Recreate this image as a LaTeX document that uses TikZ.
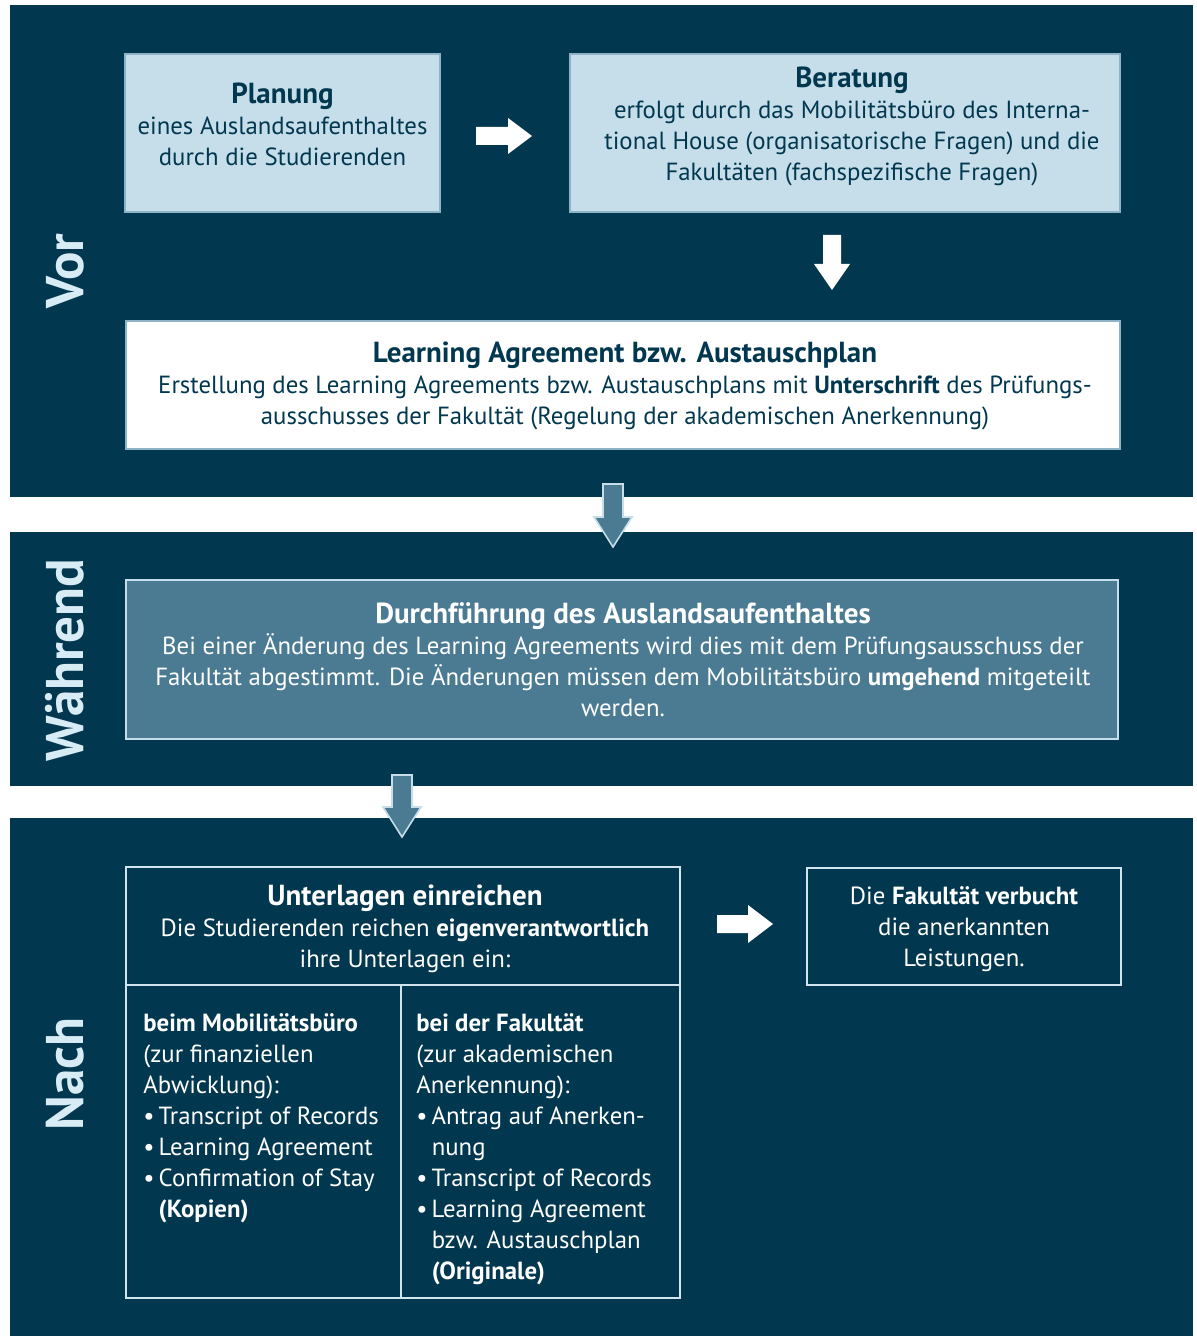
\documentclass[tikz,border=0pt]{standalone}
\usepackage{fontspec}
\setmainfont{PT Sans}
\definecolor{navy}{HTML}{02384F}
\definecolor{lightbl}{HTML}{C6DEEA}
\definecolor{midbl}{HTML}{4A7B93}
\definecolor{edgebl}{HTML}{8FB3C6}
\definecolor{labelbl}{HTML}{D8ECF6}
\newcommand{\bodyfont}{\fontsize{12.4}{15.5}\selectfont}
\newcommand{\titlefont}{\fontsize{14.5}{17}\selectfont\bfseries}
\tikzset{
  band/.style={fill=navy},
  lightbox/.style={fill=lightbl, draw=edgebl, line width=0.6pt, inner sep=0, outer sep=0, anchor=north west},
  whitebox/.style={fill=white, draw=edgebl, line width=0.6pt, inner sep=0, outer sep=0, anchor=north west},
  midbox/.style={fill=midbl, draw=lightbl, line width=0.8pt, inner sep=0, outer sep=0, anchor=north west},
  darkbox/.style={draw=lightbl!80!white, line width=0.8pt, inner sep=0, outer sep=0, anchor=north west},
  txt/.style={font=\bodyfont, align=center, inner sep=0},
  coltxt/.style={font=\bodyfont, align=left, inner sep=0, anchor=north west, text=white},
  vlabel/.style={rotate=90, font=\fontsize{26.5}{30}\selectfont\bfseries, text=labelbl, inner sep=0},
  whitearrow/.style={fill=white},
  midarrow/.style={fill=midbl, draw=lightbl, line width=0.8pt},
}
\begin{document}
\begin{tikzpicture}[x=0.5pt,y=-0.5pt]
\useasboundingbox (0,0) rectangle (1196,1336);
\fill[white] (0,0) rectangle (1196,1336);
% bands
\fill[band] (10,5) rectangle (1193,497);
\fill[band] (10,532) rectangle (1193,786);
\fill[band] (10,818) rectangle (1193,1336);

% vertical labels
\node[vlabel] (vor) at (65,271) {Vor};
\node[vlabel] (waehrend) at (65,660) {Während};
\node[vlabel] (nach) at (65,1074) {Nach};

% --- Vor ---
\node[lightbox, minimum width=157.5pt, minimum height=79pt] (plan) at (125,54) {};
\node[txt, text=navy] (planT) at (plan.center) [yshift=4.5pt] {{\titlefont Planung}\\eines Auslandsaufenthaltes\\durch die Studierenden};

\node[lightbox, minimum width=275pt, minimum height=79pt] (ber) at (570,54) {};
\node[txt, text=navy] (berT) at (852,126) {{\titlefont Beratung}\\erfolgt durch das Mobilitätsbüro des Interna-\\tional House (organisatorische Fragen) und die\\Fakultäten (fachspezifische Fragen)};

\node[whitebox, minimum width=497pt, minimum height=64pt] (la) at (126,321) {};
\node[txt, text=navy] (laT) at (625,386) {{\titlefont Learning Agreement bzw. Austauschplan}\\Erstellung des Learning Agreements bzw. Austauschplans mit \textbf{Unterschrift} des Prüfungs-\\ausschusses der Fakultät (Regelung der akademischen Anerkennung)};

% arrows Vor
\fill[whitearrow] (476,127) -- (508,127) -- (508,118) -- (532,136) -- (508,154) -- (508,145) -- (476,145) -- cycle;
\fill[whitearrow] (823,235) -- (841,235) -- (841,264) -- (850,264) -- (832,290) -- (814,264) -- (823,264) -- cycle;

% arrow Vor -> Waehrend
\filldraw[midarrow] (603,484) -- (623,484) -- (623,517) -- (632,517) -- (613,547) -- (594,517) -- (603,517) -- cycle;

% --- Waehrend ---
\node[midbox, minimum width=496pt, minimum height=79.5pt] (durch) at (126,580) {};
\node[txt, text=white] (durchT) at (623,660) {{\titlefont Durchführung des Auslandsaufenthaltes}\\Bei einer Änderung des Learning Agreements wird dies mit dem Prüfungsausschuss der\\Fakultät abgestimmt. Die Änderungen müssen dem Mobilitätsbüro \textbf{umgehend} mitgeteilt\\werden.};

% arrow Waehrend -> Nach
\filldraw[midarrow] (392,775) -- (412,775) -- (412,807) -- (421,807) -- (402,837) -- (383,807) -- (392,807) -- cycle;

% --- Nach ---
\node[darkbox, minimum width=277pt, minimum height=215.5pt] (unter) at (126,867) {};
\draw[lightbl!80!white, line width=0.8pt] (126,985) -- (680,985);
\draw[lightbl!80!white, line width=0.8pt] (401,985) -- (401,1298);
\node[txt, text=white] (unterT) at (405,929) {{\titlefont Unterlagen einreichen}\\Die Studierenden reichen \textbf{eigenverantwortlich}\\ihre Unterlagen ein:};

\node[coltxt] (colL) at (143,1013) {\textbf{beim Mobilitätsbüro}\\(zur finanziellen\\Abwicklung):\\•\,Transcript of Records\\•\,Learning Agreement\\•\,Confirmation of Stay\\\hphantom{•\,}\textbf{(Kopien)}};
\node[coltxt] (colR) at (416,1013) {\textbf{bei der Fakultät}\\(zur akademischen\\Anerkennung):\\•\,Antrag auf Anerken-\\\hphantom{•\,}nung\\•\,Transcript of Records\\•\,Learning Agreement\\\hphantom{•\,}bzw. Austauschplan\\\hphantom{•\,}\textbf{(Originale)}};

\fill[whitearrow] (717,915) -- (748,915) -- (748,905) -- (773,924) -- (748,943) -- (748,933) -- (717,933) -- cycle;

\node[darkbox, minimum width=157pt, minimum height=58.5pt] (fak) at (807,868) {};
\node[txt, text=white] (fakT) at (fak.center) [yshift=-1.5pt] {Die \textbf{Fakultät verbucht}\\die anerkannten\\Leistungen.};
\end{tikzpicture}
\end{document}
